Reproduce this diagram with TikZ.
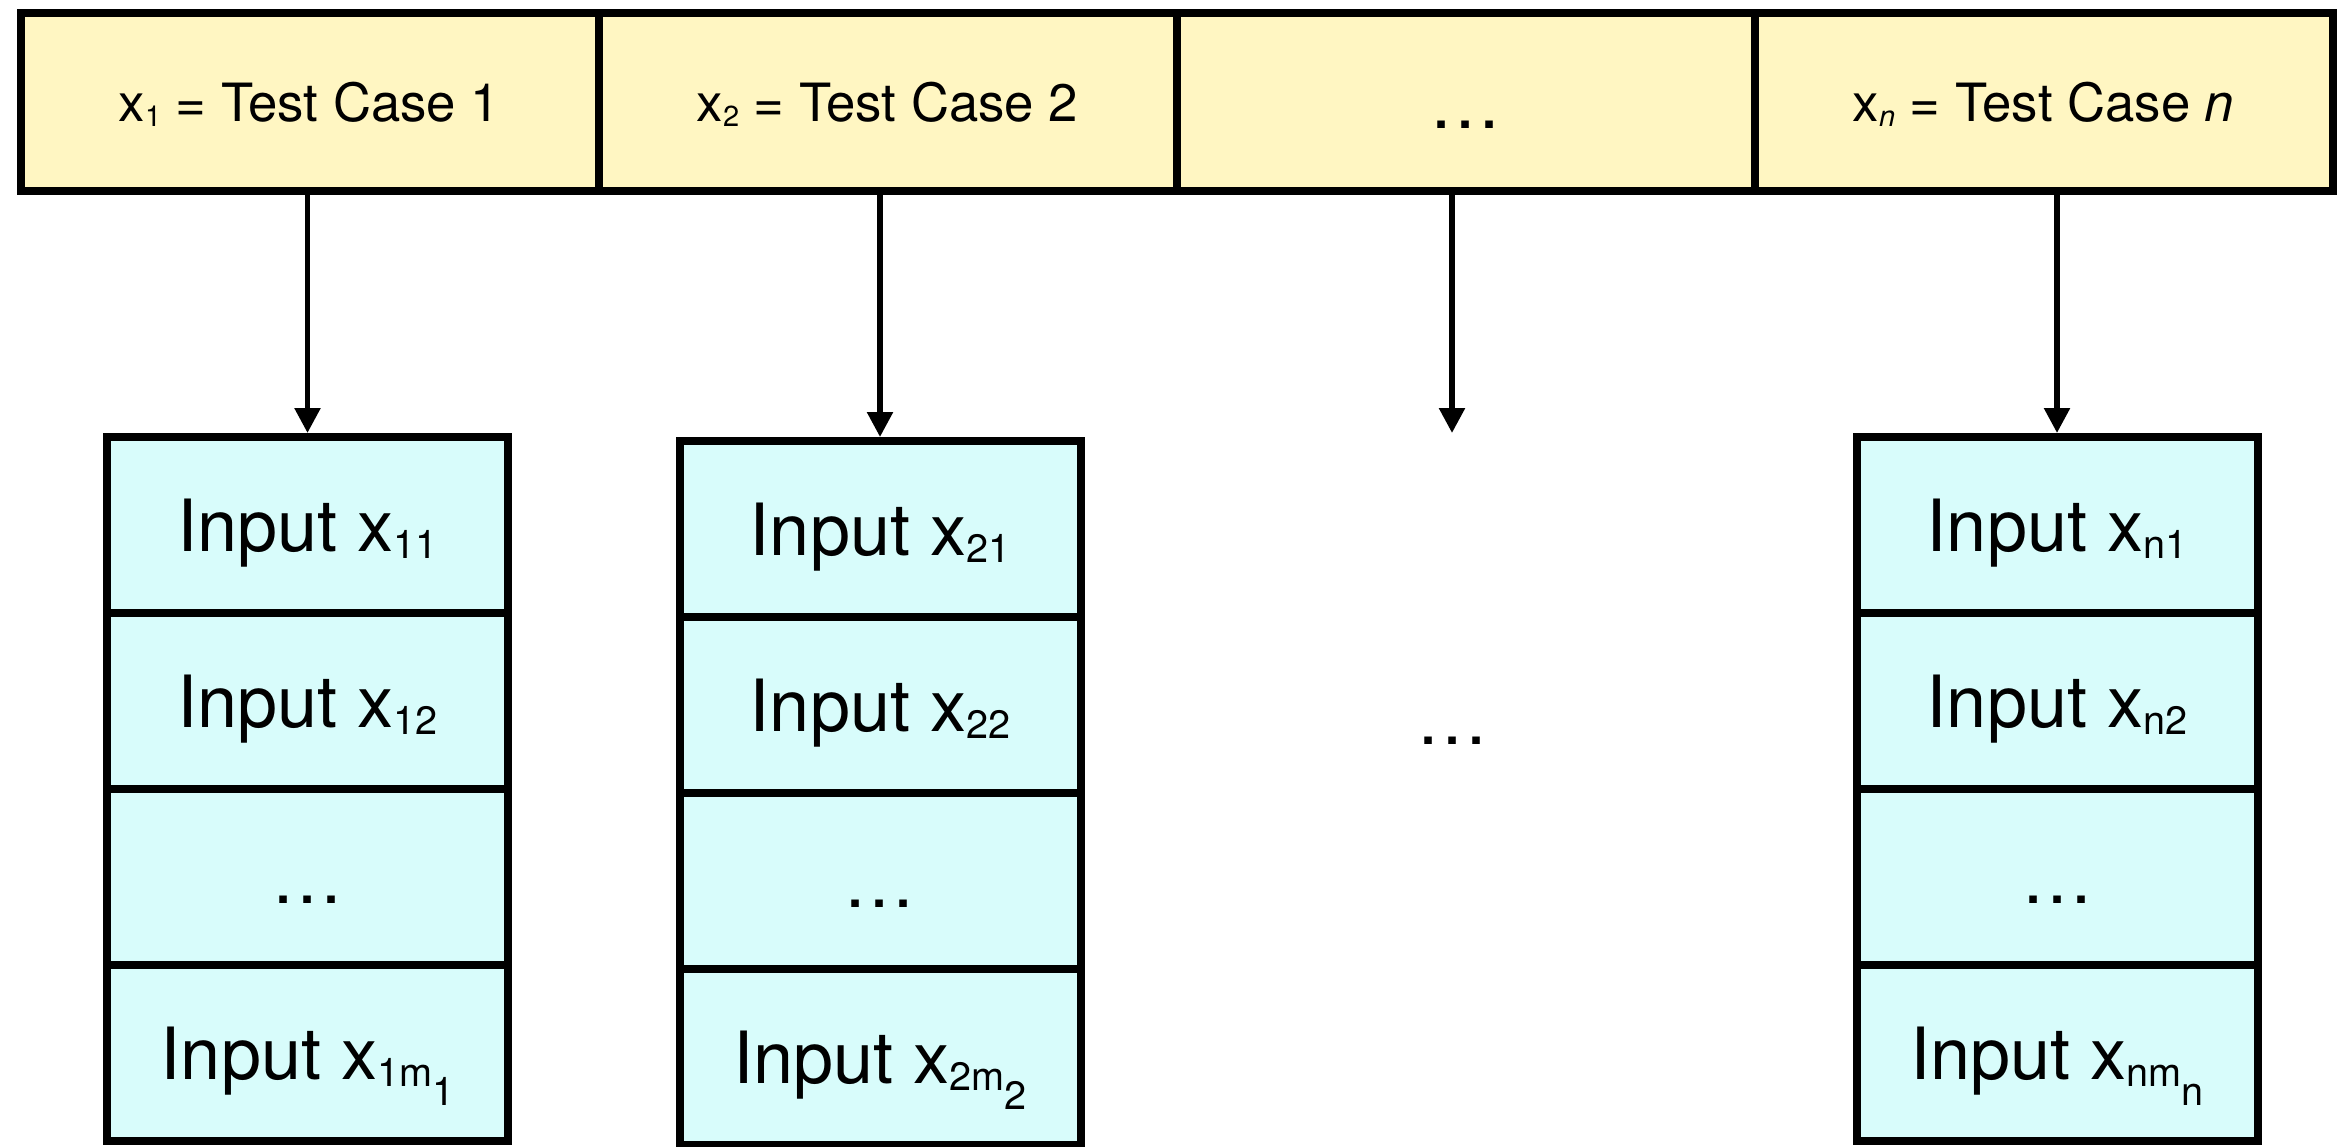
\documentclass[tikz,border=0pt]{standalone}
\usepackage{fontspec}
\setmainfont{TeX Gyre Heros}
\usetikzlibrary{arrows.meta, positioning}

\definecolor{caseyellow}{RGB}{255,246,194}
\definecolor{inputcyan}{RGB}{216,252,251}

% small index set just under the baseline, and a second level below it
\newcommand{\subidx}[1]{\raisebox{-0.2ex}{\scalebox{0.55}{#1}}}
\newcommand{\subsubidx}[1]{\raisebox{-0.7ex}{\scalebox{0.55}{#1}}}

\begin{document}
\begin{tikzpicture}[
    casebox/.style={draw, line width=0.8mm, fill=caseyellow, font=\fontsize{15}{18}\selectfont,
        minimum width=5.78cm, minimum height=1.78cm, inner sep=0pt, outer sep=0pt,
        text height=10.9pt, text depth=0pt},
    inbox/.style={draw, line width=0.8mm, fill=inputcyan, font=\fontsize{20.5}{24}\selectfont,
        minimum width=4.01cm, minimum height=1.76cm, inner sep=0pt, outer sep=0pt,
        text height=14.9pt, text depth=0pt},
    arr/.style={-{Triangle[length=2.5mm, width=2.5mm]}, line width=0.55mm, shorten >=0.4mm},
    node distance=0pt
]
    \useasboundingbox (0,0) rectangle (23.47,-11.46);

    % test cases
    \node[casebox] (tc1) at (3.095,-1.02) {x\subidx{1} = Test Case 1};
    \node[casebox, right=of tc1] (tc2) {x\subidx{2} = Test Case 2};
    \node[casebox, right=of tc2, font=\fontsize{20.5}{24}\selectfont, text height=14.9pt] (tc3) {…};
    \node[casebox, right=of tc3] (tc4) {x\subidx{\textit{n}} = Test Case \textit{n}};

    % inputs of each test case
    \node[inbox] (in11) at (3.075,-5.25) {Input x\subidx{11}};
    \node[inbox, below=of in11] (in12) {Input x\subidx{12}};
    \node[inbox, below=of in12] (in1d) {…};
    \node[inbox, below=of in1d] (in1m) {Input x\subidx{1m}\subsubidx{1}};

    \node[inbox] (in21) at (8.80,-5.29) {Input x\subidx{21}};
    \node[inbox, below=of in21] (in22) {Input x\subidx{22}};
    \node[inbox, below=of in22] (in2d) {…};
    \node[inbox, below=of in2d] (in2m) {Input x\subidx{2m}\subsubidx{2}};

    \node[inbox] (inn1) at (20.57,-5.25) {Input x\subidx{n1}};
    \node[inbox, below=of inn1] (inn2) {Input x\subidx{n2}};
    \node[inbox, below=of inn2] (innd) {…};
    \node[inbox, below=of innd] (innm) {Input x\subidx{nm}\subsubidx{n}};

    \coordinate (gap) at (14.52,-4.37);
    \node[font=\fontsize{20.5}{24}\selectfont, anchor=base] (middots) at (14.53,-7.44) {…};

    \draw[arr] (tc1.south -| in11.north) -- (in11.north);
    \draw[arr] (tc2.south -| in21.north) -- (in21.north);
    \draw[arr] (tc3.south -| gap) -- (gap);
    \draw[arr] (tc4.south -| inn1.north) -- (inn1.north);
\end{tikzpicture}
\end{document}
